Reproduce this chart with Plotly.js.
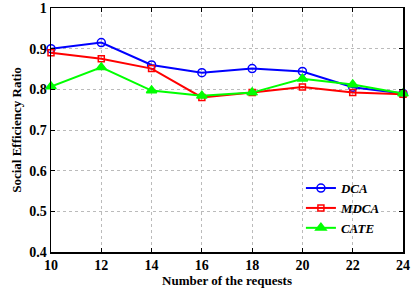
<!DOCTYPE html>
<html><head><meta charset="utf-8">
<script src="https://cdn.plot.ly/plotly-3.0.1.min.js"></script>
<style>body{margin:0;padding:0;background:#fff}#c{width:419px;height:289px}</style>
</head><body><div id="c"></div>
<script>
const requests = [10, 12, 14, 16, 18, 20, 22, 24];
const dca  = [0.900, 0.915, 0.860, 0.841, 0.851, 0.844, 0.805, 0.790];
const mdca = [0.890, 0.875, 0.851, 0.780, 0.792, 0.806, 0.792, 0.788];
const cate = [0.807, 0.854, 0.797, 0.784, 0.792, 0.826, 0.812, 0.790];
const xTicks = [10, 12, 14, 16, 18, 20, 22, 24];
const yTicks = [0.4, 0.5, 0.6, 0.7, 0.8, 0.9, 1];
const yTickText = ['0.4', '0.5', '0.6', '0.7', '0.8', '0.9', '1'];

const font = 'Liberation Serif, Times New Roman, serif';
function tr(y, name, color, symbol, size) {
  return {x: requests, y: y, name: name, type: 'scatter', mode: 'lines+markers',
    line: {color: color, width: 2},
    marker: {symbol: symbol, size: size, color: color, line: {color: color, width: 1.5}},
    cliponaxis: false};
}
const data = [
  tr(dca, '<b><i>DCA</i></b>', '#0000ff', 'circle-open', 8),
  tr(mdca, '<b><i>MDCA</i></b>', '#ff0000', 'square-open', 6),
  tr(cate, '<b><i>CATE</i></b>', '#00ff00', 'triangle-up', 9)
];
const axisCommon = {showline: true, mirror: 'ticks', linecolor: '#000', linewidth: 1.5,
  ticks: 'inside', ticklen: 4, tickcolor: '#000', showgrid: true, gridcolor: '#bbb',
  griddash: 'dot', gridwidth: 1, zeroline: false, ticklabeloverflow: 'allow',
  tickfont: {family: font, size: 14, color: '#000', weight: 'bold'}};
const layout = {
  width: 419, height: 289,
  margin: {l: 51, r: 16, t: 8, b: 37},
  paper_bgcolor: '#fff', plot_bgcolor: '#fff',
  showlegend: true,
  legend: {x: 0.71, y: 0.18, xanchor: 'left', yanchor: 'middle', bgcolor: 'rgba(255,255,255,0)',
    font: {family: font, size: 13, color: '#000'}, tracegroupgap: 0, itemwidth: 30},
  xaxis: Object.assign({}, axisCommon, {range: [10, 24], tickvals: xTicks,
    title: {text: '<b>Number of the requests</b>', font: {family: font, size: 13, color: '#000'}, standoff: 0}}),
  yaxis: Object.assign({}, axisCommon, {range: [0.4, 1], tickvals: yTicks, ticktext: yTickText,
    title: {text: '<b>Social Efficiency Ratio</b>', font: {family: font, size: 13, color: '#000'}, standoff: 4}})
};
Plotly.newPlot('c', data, layout, {displayModeBar: false, staticPlot: true});
</script></body></html>
